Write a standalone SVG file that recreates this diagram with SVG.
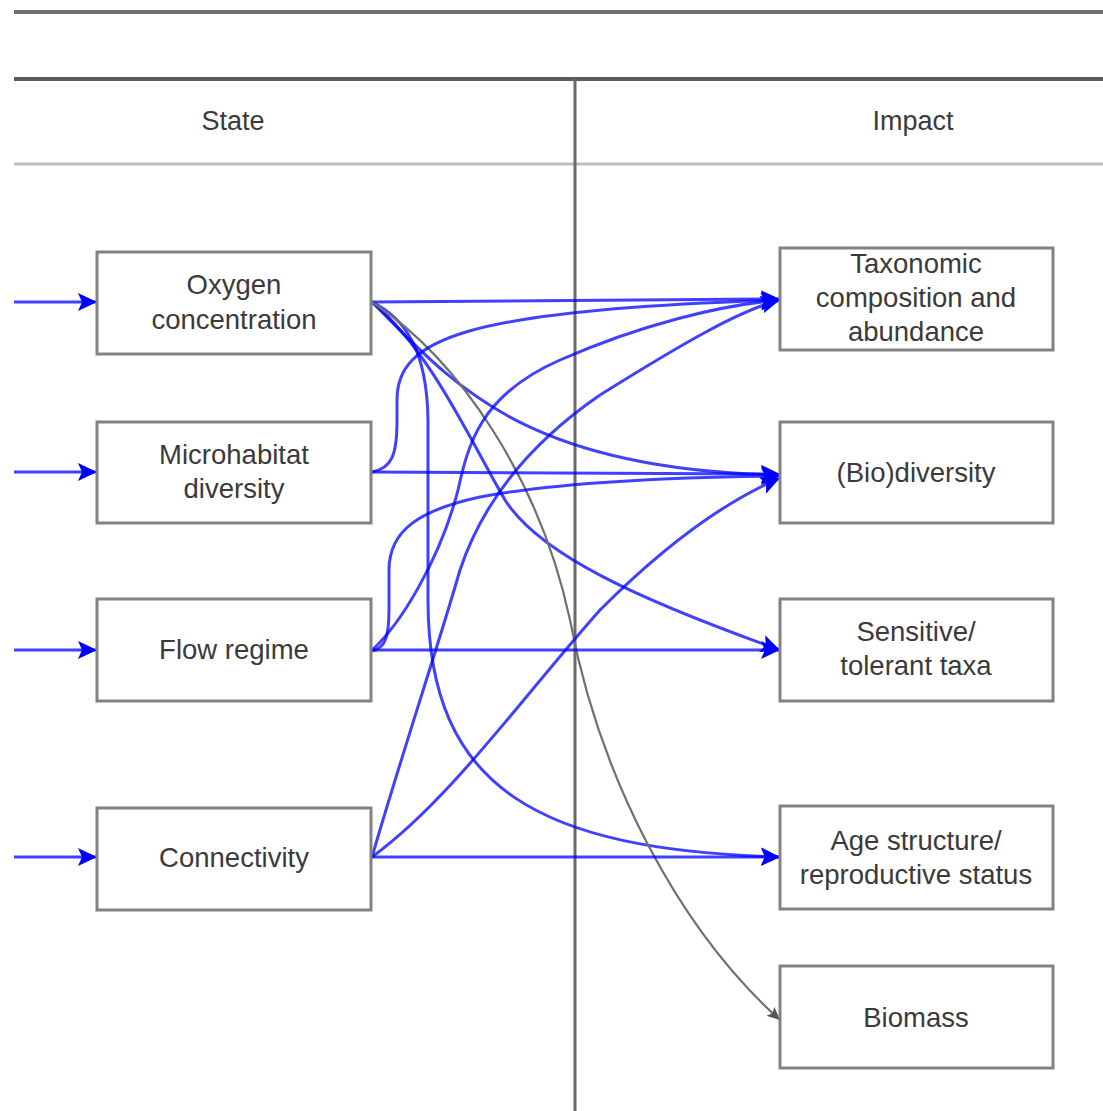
<svg xmlns="http://www.w3.org/2000/svg" width="1103" height="1111" viewBox="0 0 1103 1111">
  <style>
    .box { fill: #ffffff; stroke: #828282; stroke-width: 3; }
    .lbl { font-family: "Liberation Sans", Arial, sans-serif; font-size: 27.5px; fill: #3a3a3a; text-anchor: middle; dominant-baseline: central; }
    .hdr { font-family: "Liberation Sans", Arial, sans-serif; font-size: 27px; fill: #3a3a3a; text-anchor: middle; dominant-baseline: central; }
    .blue { fill: none; stroke: #0000ff; stroke-width: 3; stroke-opacity: 0.75; marker-end: url(#arrBlue); }
    .grey { fill: none; stroke: #707070; stroke-width: 2.2; marker-end: url(#arrGrey); }
  </style>
  <defs>
    <marker id="arrBlue" markerUnits="userSpaceOnUse" markerWidth="22" markerHeight="20" refX="19" refY="9" orient="auto">
      <path d="M0,0 L19,9 L0,18 L4,9 Z" fill="#0000ff"/>
    </marker>
    <marker id="arrGrey" markerUnits="userSpaceOnUse" markerWidth="14" markerHeight="12" refX="13" refY="6" orient="auto">
      <path d="M0,0 L13,6 L0,12 L3,6 Z" fill="#555555"/>
    </marker>
  </defs>

  <rect width="1103" height="1111" fill="#ffffff"/>

  <!-- table frame: title rule, header rules and column divider -->
  <g id="frame">
    <line x1="14" y1="12" x2="1103" y2="12" stroke="#6e6e6e" stroke-width="4"/>
    <line x1="14" y1="79" x2="1103" y2="79" stroke="#5a5a5a" stroke-width="4"/>
    <line x1="14" y1="164" x2="1103" y2="164" stroke="#bdbdbd" stroke-width="3"/>
    <line x1="575" y1="79" x2="575" y2="1111" stroke="#6a6a6a" stroke-width="3"/>
    <text class="hdr" x="233" y="121">State</text>
    <text class="hdr" x="913" y="121">Impact</text>
  </g>

  <!-- connectors -->
  <g id="connectors">
    <!-- incoming drivers -->
    <path class="blue" d="M14,302 L97,302"/>
    <path class="blue" d="M14,472 L97,472"/>
    <path class="blue" d="M14,650 L97,650"/>
    <path class="blue" d="M14,857 L97,857"/>

    <!-- Oxygen concentration -->
    <path class="blue" d="M372,302 L780,299"/>
    <path class="blue" d="M372,302 C450,380 520,470 780,475"/>
    <path class="blue" d="M372,302 C430,350 470,440 505,500 C540,555 640,600 780,650"/>
    <path class="blue" d="M372,302 C405,318 427,350 428,420 L428,600 C428,790 540,850 780,857"/>
    <path class="grey" d="M372,302 C460,360 540,480 570,620 C600,780 680,930 780,1020"/>

    <!-- Microhabitat diversity -->
    <path class="blue" d="M372,472 L780,474"/>
    <path class="blue" d="M372,472 C392,468 397,455 397,420 L397,400 C397,340 460,310 780,300"/>

    <!-- Flow regime -->
    <path class="blue" d="M372,650 L780,650"/>
    <path class="blue" d="M372,651 C384,648 389,640 389,610 L389,570 C389,530 420,510 480,497 C560,482 680,477 780,476"/>
    <path class="blue" d="M372,650 C400,625 440,560 458,490 C468,445 480,395 560,360 C640,325 720,305 780,300"/>

    <!-- Connectivity -->
    <path class="blue" d="M372,857 L780,857"/>
    <path class="blue" d="M372,857 C450,800 520,700 600,610 C680,530 740,495 780,478"/>
    <path class="blue" d="M372,857 C400,760 440,640 460,570 C480,510 520,450 600,395 C680,345 740,310 780,300"/>
  </g>

  <!-- State column -->
  <g id="oxygen">
    <rect class="box" x="97" y="252" width="274" height="102"/>
    <text class="lbl" x="234" y="284">Oxygen</text>
    <text class="lbl" x="234" y="319">concentration</text>
  </g>
  <g id="microhabitat">
    <rect class="box" x="97" y="422" width="274" height="101"/>
    <text class="lbl" x="234" y="454">Microhabitat</text>
    <text class="lbl" x="234" y="488">diversity</text>
  </g>
  <g id="flow">
    <rect class="box" x="97" y="599" width="274" height="102"/>
    <text class="lbl" x="234" y="649">Flow regime</text>
  </g>
  <g id="connectivity">
    <rect class="box" x="97" y="808" width="274" height="102"/>
    <text class="lbl" x="234" y="857">Connectivity</text>
  </g>

  <!-- Impact column -->
  <g id="taxonomic">
    <rect class="box" x="780" y="248" width="273" height="102"/>
    <text class="lbl" x="916" y="263">Taxonomic</text>
    <text class="lbl" x="916" y="297">composition and</text>
    <text class="lbl" x="916" y="331">abundance</text>
  </g>
  <g id="biodiversity">
    <rect class="box" x="780" y="422" width="273" height="101"/>
    <text class="lbl" x="916" y="472">(Bio)diversity</text>
  </g>
  <g id="sensitive">
    <rect class="box" x="780" y="599" width="273" height="102"/>
    <text class="lbl" x="916" y="631">Sensitive/</text>
    <text class="lbl" x="916" y="665">tolerant taxa</text>
  </g>
  <g id="age">
    <rect class="box" x="780" y="806" width="273" height="103"/>
    <text class="lbl" x="916" y="840">Age structure/</text>
    <text class="lbl" x="916" y="874">reproductive status</text>
  </g>
  <g id="biomass">
    <rect class="box" x="780" y="966" width="273" height="102"/>
    <text class="lbl" x="916" y="1017">Biomass</text>
  </g>
</svg>
